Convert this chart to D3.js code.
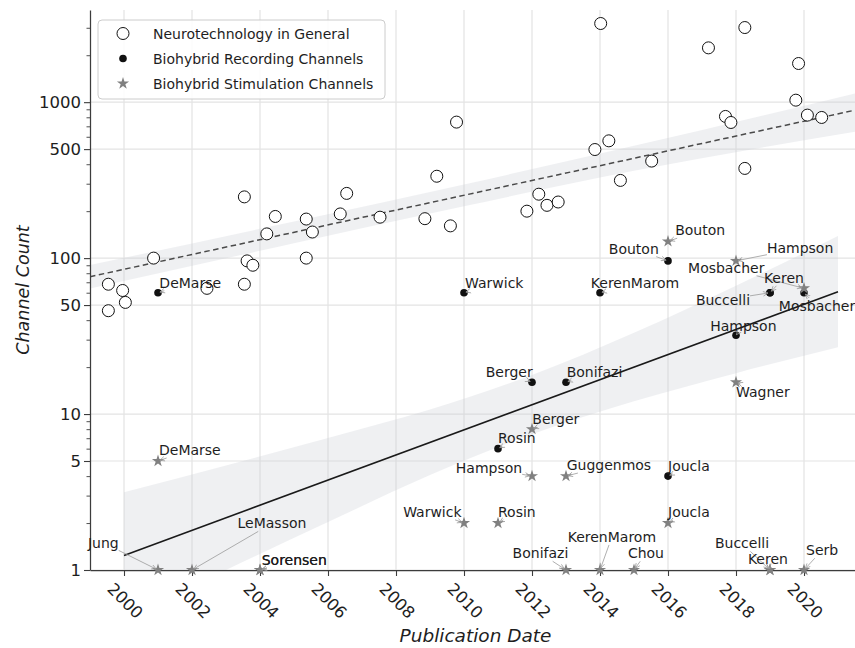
<!DOCTYPE html>
<html>
<head>
<meta charset="utf-8">
<script src="https://cdn.jsdelivr.net/npm/d3@7"></script>
<style>
  body { margin: 0; background: #fff; }
  svg { display: block; font-family: 'DejaVu Sans', sans-serif; }
</style>
</head>
<body>
<svg id="chart" width="855" height="648"></svg>
<script>
'use strict'

// Neurotechnology in general (open circles)
const genYears = [1999.54, 1999.96, 1999.54, 2000.04, 2000.87, 2002.44, 2003.54, 2003.62, 2003.79, 2003.54,
                  2004.2, 2004.45, 2005.36, 2005.54, 2005.36, 2006.36, 2006.55, 2007.53, 2008.85, 2009.6,
                  2009.78, 2009.2, 2011.85, 2012.2, 2012.44, 2012.77, 2014.02, 2013.85, 2014.26, 2014.6,
                  2015.52, 2017.19, 2018.26, 2017.69, 2017.85, 2018.26, 2019.84, 2019.76, 2020.1, 2020.52]
const genValues = [68, 62, 46, 52, 100, 64, 247, 96, 90, 68,
                   143, 185, 178, 147, 100, 192, 260, 183, 179, 161,
                   745, 335, 200, 257, 218, 229, 3195, 497, 565, 315,
                   419, 2230, 3010, 810, 741, 376, 1770, 1030, 826, 798]

// Biohybrid recording channels (black dots)
const recNames = ['DeMarse', 'Warwick', 'KerenMarom', 'Bouton', 'Buccelli', 'Keren', 'Mosbacher', 'Hampson',
                  'Berger', 'Bonifazi', 'Rosin', 'Joucla']
const recYears = [2001, 2010, 2014, 2016, 2019, 2019, 2020, 2018, 2012, 2013, 2011, 2016]
const recValues = [60, 60, 60, 96, 60, 60, 60, 32, 16, 16, 6, 4]
const recLabelYears = [2001.04, 2010.03, 2013.73, 2014.26, 2016.82, 2018.82, 2019.26, 2017.24, 2010.64, 2013.02, 2011.0, 2016.0]
const recLabelValues = [69.5, 68.8, 68.8, 115, 53.8, 74.8, 49.3, 36.7, 18.5, 18.5, 7.0, 4.66]

// Biohybrid stimulation channels (grey stars)
const stimNames = ['DeMarse', 'Jung', 'LeMasson', 'Sorensen', 'Sorensen', 'Warwick', 'Rosin', 'Hampson', 'Guggenmos',
                   'Joucla', 'Bonifazi', 'KerenMarom', 'Chou', 'Berger', 'Wagner', 'Buccelli', 'Keren', 'Serb',
                   'Bouton', 'Hampson', 'Mosbacher']
const stimYears = [2001, 2001, 2002, 2004, 2004, 2010, 2011, 2012, 2013, 2016, 2013, 2014, 2015, 2012, 2018,
                   2019, 2019, 2020, 2016, 2018, 2020]
const stimValues = [5, 1, 1, 1, 1, 2, 2, 4, 4, 2, 1, 1, 1, 8, 16, 1, 1, 1, 128, 96, 64]
const stimLabelYears = [2001.03, 1998.94, 2003.34, 2004.05, 2004.05, 2008.21, 2011.0, 2009.76, 2013.02, 2016.0,
                        2011.43, 2013.05, 2014.82, 2012.01, 2018.0, 2017.38, 2018.35, 2020.06, 2016.21, 2018.91, 2016.59]
const stimLabelValues = [5.88, 1.5, 1.99, 1.16, 1.16, 2.36, 2.36, 4.49, 4.71, 2.34,
                         1.28, 1.63, 1.28, 9.25, 13.9, 1.48, 1.17, 1.34, 151, 116, 86.7]

// regression lines and confidence bands
const trendGenYears = [1999, 2021.5]
const trendGenValues = [76, 889]
const bandGenYears = [1999, 2005, 2010, 2015, 2021.5]
const bandGenLow = [63.8, 124.5, 215, 363, 645.7]
const bandGenHigh = [90.2, 171.8, 296.8, 524.8, 1138]

const trendBioYears = [2000, 2021]
const trendBioValues = [1.24, 60.8]
const bandBioYears = [2000, 2003, 2006, 2009, 2012, 2015, 2018, 2021]
const bandBioLow = [0.49, 1.0, 2.03, 4.06, 7.41, 12.06, 18.3, 26.8]
const bandBioHigh = [3.15, 4.68, 7.03, 10.68, 17.8, 33.2, 66.5, 138.5]

// axes
const xTicks = [2000, 2002, 2004, 2006, 2008, 2010, 2012, 2014, 2016, 2018, 2020]
const yTicks = [1, 5, 10, 50, 100, 500, 1000]

const legendLabels = ['Neurotechnology in General', 'Biohybrid Recording Channels', 'Biohybrid Stimulation Channels']

const textColor = '#1e1e1e'
const starColor = '#808080'
const gridColor = '#e3e3e3'
const spineColor = '#3c3c3c'

const svg = d3.select('#chart')

const x = d3.scaleLinear().domain([1999, 2021.5]).range([90, 855])
const y = d3.scaleLog().domain([1, 3900]).range([570, 10])

const defs = svg.append('defs')
defs.append('clipPath').attr('id', 'plot-clip')
  .append('rect')
    .attr('x', x.range()[0]).attr('y', y.range()[1])
    .attr('width', x.range()[1] - x.range()[0])
    .attr('height', y.range()[0] - y.range()[1])

defs.append('marker')
    .attr('id', 'arrow')
    .attr('viewBox', '0 -4 7 8')
    .attr('refX', 6.5).attr('refY', 0)
    .attr('markerWidth', 6).attr('markerHeight', 6)
    .attr('markerUnits', 'userSpaceOnUse')
    .attr('orient', 'auto')
  .append('path')
    .attr('d', 'M0,-3L6.5,0L0,3')
    .attr('fill', 'none')
    .attr('stroke', '#9a9a9a')
    .attr('stroke-width', 1)

// GRID
const grid = svg.append('g')
grid.selectAll('.vgrid')
  .data(xTicks)
  .join('line')
    .attr('class', 'vgrid')
    .attr('x1', d => x(d)).attr('x2', d => x(d))
    .attr('y1', y.range()[1]).attr('y2', y.range()[0])
    .attr('stroke', gridColor)
    .attr('stroke-width', 1.2)

grid.selectAll('.hgrid')
  .data(yTicks)
  .join('line')
    .attr('class', 'hgrid')
    .attr('x1', x.range()[0]).attr('x2', x.range()[1])
    .attr('y1', d => y(d)).attr('y2', d => y(d))
    .attr('stroke', gridColor)
    .attr('stroke-width', 1.2)

// REGRESSIONS
const fits = svg.append('g').attr('clip-path', 'url(#plot-clip)')

const band = d3.area()
  .x(d => x(d.year))
  .y0(d => y(d.low))
  .y1(d => y(d.high))
  .curve(d3.curveMonotoneX)

const trend = d3.line()
  .x(d => x(d.year))
  .y(d => y(d.value))

const genBand = bandGenYears.map((yr, i) => ({year: yr, low: bandGenLow[i], high: bandGenHigh[i]}))
const bioBand = bandBioYears.map((yr, i) => ({year: yr, low: bandBioLow[i], high: bandBioHigh[i]}))

fits.append('path')
  .datum(genBand)
  .attr('d', band)
  .attr('fill', '#c9ccd3')
  .attr('fill-opacity', 0.3)

fits.append('path')
  .datum(bioBand)
  .attr('d', band)
  .attr('fill', '#c9ccd3')
  .attr('fill-opacity', 0.3)

fits.append('path')
  .datum(trendGenYears.map((yr, i) => ({year: yr, value: trendGenValues[i]})))
  .attr('d', trend)
  .attr('fill', 'none')
  .attr('stroke', '#4a4a4a')
  .attr('stroke-width', 1.5)
  .attr('stroke-dasharray', '5.5,3.5')

fits.append('path')
  .datum(trendBioYears.map((yr, i) => ({year: yr, value: trendBioValues[i]})))
  .attr('d', trend)
  .attr('fill', 'none')
  .attr('stroke', '#1a1a1a')
  .attr('stroke-width', 1.6)

// AXES
const yAxis = svg.append('g')
  .attr('transform', `translate(${x.range()[0]},0)`)
  .call(d3.axisLeft(y).tickValues(yTicks).tickFormat(d3.format('d')).tickSize(6).tickSizeOuter(0).tickPadding(3))
yAxis.select('.domain').attr('stroke', spineColor).attr('stroke-width', 1.25)
yAxis.selectAll('.tick line').attr('stroke', spineColor).attr('stroke-width', 1.1)
yAxis.selectAll('.tick text')
  .attr('fill', textColor)
  .style('font-size', '16.5px')
  .style('font-family', "'DejaVu Sans', sans-serif")

const minorTicks = y.ticks().filter(v => !yTicks.includes(v))
const yMinor = svg.append('g')
  .attr('transform', `translate(${x.range()[0]},0)`)
  .call(d3.axisLeft(y).tickValues(minorTicks).tickFormat('').tickSize(3.5).tickSizeOuter(0))
yMinor.select('.domain').remove()
yMinor.selectAll('.tick line').attr('stroke', spineColor).attr('stroke-width', 0.9)

const xAxis = svg.append('g')
  .attr('transform', `translate(0,${y.range()[0]})`)
  .call(d3.axisBottom(x).tickValues(xTicks).tickFormat('').tickSize(6).tickSizeOuter(0))
xAxis.select('.domain').attr('stroke', spineColor).attr('stroke-width', 1.25)
xAxis.selectAll('.tick line').attr('stroke', spineColor).attr('stroke-width', 1.1)

svg.append('g').selectAll('text')
  .data(xTicks)
  .join('text')
    .attr('transform', d => `translate(${x(d) + 1},${y.range()[0] + 31}) rotate(45)`)
    .attr('text-anchor', 'middle')
    .attr('dominant-baseline', 'central')
    .attr('fill', textColor)
    .style('font-size', '16.5px')
    .text(d => d)

svg.append('text')
  .attr('x', (x.range()[0] + x.range()[1]) / 2 + 3)
  .attr('y', 642)
  .attr('text-anchor', 'middle')
  .attr('fill', textColor)
  .style('font-size', '18.5px')
  .style('font-style', 'italic')
  .text('Publication Date')

svg.append('text')
  .attr('transform', `translate(29,${(y.range()[0] + y.range()[1]) / 2}) rotate(-90)`)
  .attr('text-anchor', 'middle')
  .attr('fill', textColor)
  .style('font-size', '17.5px')
  .style('font-style', 'italic')
  .text('Channel Count')

// POINTS
const star = d3.symbol(d3.symbolStar, 46)

svg.append('g').selectAll('circle')
  .data(genYears.map((yr, i) => ({year: yr, value: genValues[i]})))
  .join('circle')
    .attr('cx', d => x(d.year))
    .attr('cy', d => y(d.value))
    .attr('r', 6)
    .attr('fill', 'white')
    .attr('stroke', '#111')
    .attr('stroke-width', 1)

const recData = recNames.map((n, i) => ({
  name: n, year: recYears[i], value: recValues[i], ly: recLabelYears[i], lv: recLabelValues[i]
}))
const stimData = stimNames.map((n, i) => ({
  name: n, year: stimYears[i], value: stimValues[i], ly: stimLabelYears[i], lv: stimLabelValues[i]
}))

svg.append('g').selectAll('circle')
  .data(recData)
  .join('circle')
    .attr('cx', d => x(d.year))
    .attr('cy', d => y(d.value))
    .attr('r', 3.8)
    .attr('fill', '#111')

svg.append('g').selectAll('path')
  .data(stimData)
  .join('path')
    .attr('transform', d => `translate(${x(d.year)},${y(d.value)})`)
    .attr('d', star)
    .attr('fill', starColor)

// ANNOTATIONS
const notes = svg.append('g')
const arrows = notes.append('g')
const labels = notes.append('g')

recData.concat(stimData).forEach(d => {
  const t = labels.append('text')
    .attr('x', x(d.ly))
    .attr('y', y(d.lv))
    .attr('dominant-baseline', 'central')
    .attr('fill', textColor)
    .style('font-size', '14px')
    .text(d.name)

  const b = t.node().getBBox()
  const cx = b.x + b.width / 2, cy = b.y + b.height / 2
  const tx = x(d.year), ty = y(d.value)
  const dx = tx - cx, dy = ty - cy
  const s = Math.min(Math.abs(dx) > 0 ? (b.width / 2) / Math.abs(dx) : Infinity,
                     Math.abs(dy) > 0 ? (b.height / 2) / Math.abs(dy) : Infinity)
  if (s >= 1) return
  const len = Math.hypot(dx, dy)
  const shrink = Math.min(2, len * (1 - s) / 2)
  arrows.append('line')
    .attr('x1', cx + dx * s)
    .attr('y1', cy + dy * s)
    .attr('x2', tx - dx / len * shrink)
    .attr('y2', ty - dy / len * shrink)
    .attr('stroke', '#9a9a9a')
    .attr('stroke-width', 0.8)
    .attr('marker-end', 'url(#arrow)')
})

// LEGEND
const legend = svg.append('g').attr('transform', 'translate(98,20)')
legend.append('rect')
  .attr('width', 287).attr('height', 79)
  .attr('rx', 4)
  .attr('fill', 'white').attr('fill-opacity', 0.85)
  .attr('stroke', '#cccccc')

const rows = legend.selectAll('g')
  .data(legendLabels)
  .join('g')
    .attr('transform', (d, i) => `translate(0,${13.5 + i * 25})`)

rows.filter((d, i) => i === 0).append('circle')
  .attr('cx', 25).attr('r', 6)
  .attr('fill', 'white').attr('stroke', '#111').attr('stroke-width', 1)
rows.filter((d, i) => i === 1).append('circle')
  .attr('cx', 25).attr('r', 3.8)
  .attr('fill', '#111')
rows.filter((d, i) => i === 2).append('path')
  .attr('transform', 'translate(25,0)')
  .attr('d', star)
  .attr('fill', starColor)

rows.append('text')
  .attr('x', 55)
  .attr('dominant-baseline', 'central')
  .attr('fill', textColor)
  .style('font-size', '14px')
  .text(d => d)
</script>
</body>
</html>
